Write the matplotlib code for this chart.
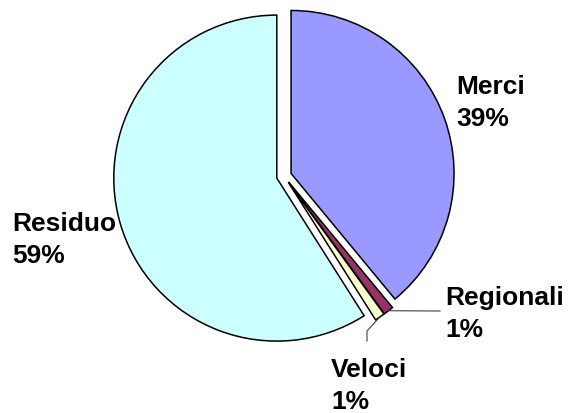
import numpy as np
import matplotlib.pyplot as plt

# dati
categorie = ['Merci', 'Regionali', 'Veloci', 'Residuo']
valori = [39, 1, 1, 59]
colori = ['#9999FF', '#993366', '#FFFFCC', '#CCFFFF']

# posizione etichette (pixel, origine in alto a sinistra)
pos_etichette = [(456, 103), (445, 314), (331, 386), (12, 240)]

W, H = 568, 414
fig = plt.figure(figsize=(W / 100, H / 100), dpi=100)
ax = fig.add_axes([0, 0, 1, 1])

cx, cy, r = 284, H - 177, 163
# in matplotlib explode e' in unita' dati, non relativo al raggio
esplodi = [7.5] * len(valori)

wedges, _ = ax.pie(valori, colors=colori, startangle=90, counterclock=False,
                   explode=esplodi, center=(cx, cy), radius=r,
                   wedgeprops=dict(edgecolor='black', linewidth=1.1))

ax.set_xlim(0, W)
ax.set_ylim(0, H)
ax.set_aspect('equal')
ax.axis('off')

tot = sum(valori)
for i, (nome, v) in enumerate(zip(categorie, valori)):
    lx, ly = pos_etichette[i]
    ax.text(lx, H - ly, f"{nome}\n{round(100 * v / tot)}%", ha='left', va='center',
            fontsize=19, fontweight='bold', family='Liberation Sans',
            linespacing=1.38, color='black')

# linee guida per le fette piccole
def punta(w):
    th = np.deg2rad((w.theta1 + w.theta2) / 2)
    return w.center[0] + w.r * np.cos(th), w.center[1] + w.r * np.sin(th)

px, py = punta(wedges[1])
ax.plot([px, 440], [py, H - 312], color='#404040', lw=0.8)
px, py = punta(wedges[2])
ax.plot([px, 367, 367], [py, H - 332, H - 342], color='#404040', lw=0.8)

plt.savefig('out.png', dpi=100)
plt.close()
